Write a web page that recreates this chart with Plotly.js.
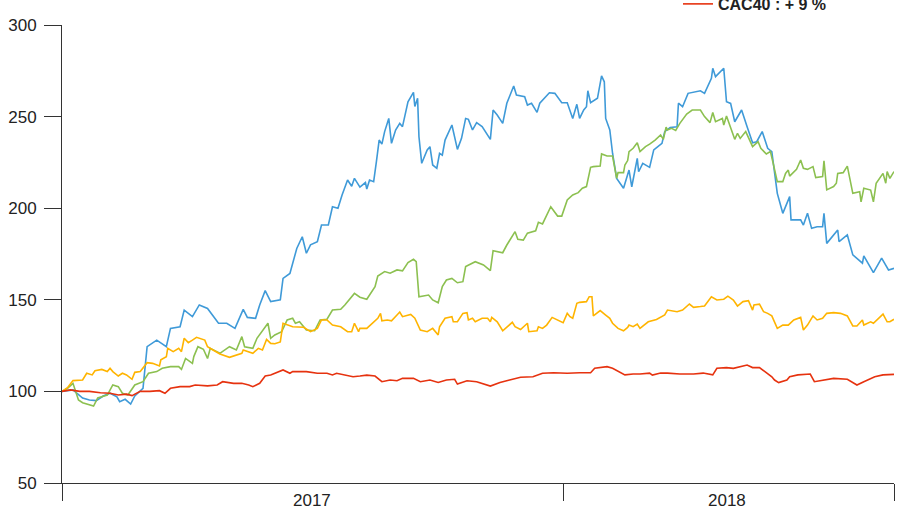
<!DOCTYPE html>
<html><head><meta charset="utf-8">
<script src="https://cdn.plot.ly/plotly-3.0.1.min.js"></script>
<style>html,body{margin:0;padding:0;background:#fff;} #chart{width:906px;height:506px;}</style>
</head><body><div id="chart"></div>
<script>
// ---- Series 1 (blue) ----
const blueDates = [
'2017-01-01','2017-01-05','2017-01-09','2017-01-16','2017-01-21','2017-01-26','2017-01-31','2017-02-05','2017-02-10','2017-02-12',
'2017-02-16','2017-02-20','2017-02-23','2017-03-01','2017-03-04','2017-03-11','2017-03-18','2017-03-21','2017-03-28','2017-03-31',
'2017-04-06','2017-04-11','2017-04-17','2017-04-25','2017-05-01','2017-05-07','2017-05-13','2017-05-16','2017-05-22','2017-05-25',
'2017-05-29','2017-06-02','2017-06-09','2017-06-11','2017-06-16','2017-06-21','2017-06-25','2017-06-28','2017-07-01','2017-07-06',
'2017-07-09','2017-07-14','2017-07-17','2017-07-21','2017-07-24','2017-07-28','2017-07-31','2017-08-02','2017-08-06','2017-08-10',
'2017-08-11','2017-08-13','2017-08-16','2017-08-18','2017-08-20','2017-08-22','2017-08-24','2017-08-27','2017-08-29','2017-09-01',
'2017-09-04','2017-09-06','2017-09-10','2017-09-14','2017-09-15','2017-09-17','2017-09-18','2017-09-20','2017-09-24','2017-09-26',
'2017-09-28','2017-10-01','2017-10-03','2017-10-05','2017-10-07','2017-10-12','2017-10-16','2017-10-19','2017-10-22','2017-10-24',
'2017-10-27','2017-10-30','2017-11-03','2017-11-09','2017-11-11','2017-11-14','2017-11-18','2017-11-21','2017-11-26','2017-11-28',
'2017-12-04','2017-12-06','2017-12-09','2017-12-13','2017-12-15','2017-12-22','2017-12-26','2017-12-31','2018-01-04','2018-01-08',
'2018-01-11','2018-01-13','2018-01-16','2018-01-18','2018-01-19','2018-01-21','2018-01-26','2018-01-29','2018-01-31','2018-02-01',
'2018-02-04','2018-02-06','2018-02-09','2018-02-14','2018-02-18','2018-02-20','2018-02-24','2018-02-25','2018-02-28','2018-03-05',
'2018-03-08','2018-03-11','2018-03-14','2018-03-16','2018-03-20','2018-03-25','2018-03-26','2018-03-29','2018-04-02','2018-04-11',
'2018-04-14','2018-04-19','2018-04-20','2018-04-22','2018-04-28','2018-04-30','2018-05-03','2018-05-06','2018-05-08','2018-05-11',
'2018-05-15','2018-05-19','2018-05-22','2018-05-26','2018-05-30','2018-06-02','2018-06-06','2018-06-10','2018-06-15','2018-06-16',
'2018-06-23','2018-06-25','2018-06-28','2018-07-01','2018-07-05','2018-07-09','2018-07-10','2018-07-12','2018-07-20','2018-07-21',
'2018-07-27','2018-07-31','2018-08-07','2018-08-08','2018-08-15','2018-08-21','2018-08-26','2018-08-30'];
const blueValues = [
100,100.5,100.8,96.4,95.3,95,97.5,99,97,94.4,
95.7,93.1,97.5,101.7,124.4,128,124.4,134.4,135.3,144.4,
140.8,147.2,145.3,137.2,137.2,134.4,144.8,140.4,139.9,147.2,
155,149,150,161.7,164.4,178,184.4,175.4,180,181.7,
190.8,190.8,200.8,200,207.2,215.4,212,216.3,211.5,214,
210.5,215.4,214.5,225.4,237.2,235,241.8,249,235.4,242.7,
246.3,244.5,258.1,263.2,255.5,260,239,224.5,231.8,233.6,
223.6,221.8,230,229,237.2,245.4,232.1,238.1,249,248.5,
242.7,246.7,244.5,237.6,253.6,250.9,246.3,257.3,266.7,261.8,
260.9,256.3,257.3,252.3,257.3,263,262.7,257.6,257.6,249,
256.7,249,253.6,255.4,264.1,257.6,260,272.2,269,249,
242.7,230,216.3,210.9,220.8,211.7,227.2,219.9,224.5,222.3,
231.8,233.6,235.4,241.8,244.1,244.5,257.3,255.4,262.7,264.1,
262.7,270.9,276.4,271.8,276.4,258.1,257.2,247.2,249.9,253.6,
244.5,235.7,236.3,241.8,232.7,230.9,208.1,197.2,206.3,193.6,
193.6,190.8,197.2,189,189.9,189.9,197.2,180.8,188.1,181.7,
185.4,174.5,170,174,164.8,172.7,166.3,167.2];

// ---- Series 2 (green) ----
const greenDates = [
'2017-01-01','2017-01-05','2017-01-09','2017-01-13','2017-01-16','2017-01-24','2017-01-27','2017-02-03','2017-02-07','2017-02-11',
'2017-02-14','2017-02-18','2017-02-23','2017-03-01','2017-03-05','2017-03-11','2017-03-15','2017-03-21','2017-03-27','2017-03-29',
'2017-04-01','2017-04-06','2017-04-07','2017-04-10','2017-04-14','2017-04-17','2017-04-19','2017-04-26','2017-05-03','2017-05-08',
'2017-05-12','2017-05-14','2017-05-20','2017-05-23','2017-05-31','2017-06-02','2017-06-05','2017-06-10','2017-06-14','2017-06-18',
'2017-06-20','2017-06-23','2017-06-28','2017-07-04','2017-07-08','2017-07-13','2017-07-17','2017-07-23','2017-07-26','2017-07-31',
'2017-08-02','2017-08-06','2017-08-11','2017-08-17','2017-08-19','2017-08-24','2017-08-28','2017-09-02','2017-09-06','2017-09-10',
'2017-09-14','2017-09-16','2017-09-18','2017-09-25','2017-09-28','2017-10-02','2017-10-05','2017-10-08','2017-10-12','2017-10-16',
'2017-10-20','2017-10-22','2017-10-29','2017-11-04','2017-11-09','2017-11-11','2017-11-18','2017-11-21','2017-11-27','2017-11-29',
'2017-12-03','2017-12-06','2017-12-12','2017-12-14','2017-12-17','2017-12-23','2017-12-28','2017-12-31','2018-01-04','2018-01-08',
'2018-01-12','2018-01-15','2018-01-18','2018-01-21','2018-01-23','2018-01-28','2018-01-29','2018-02-02','2018-02-06','2018-02-09',
'2018-02-10','2018-02-14','2018-02-15','2018-02-17','2018-02-18','2018-02-21','2018-02-24','2018-02-26','2018-03-02','2018-03-05',
'2018-03-09','2018-03-13','2018-03-15','2018-03-17','2018-03-18','2018-03-21','2018-03-24','2018-03-27','2018-04-01','2018-04-05',
'2018-04-11','2018-04-14','2018-04-18','2018-04-20','2018-04-22','2018-04-27','2018-04-28','2018-04-30','2018-05-03','2018-05-06',
'2018-05-08','2018-05-10','2018-05-14','2018-05-17','2018-05-19','2018-05-23','2018-05-25','2018-05-29','2018-06-01','2018-06-03',
'2018-06-06','2018-06-10','2018-06-12','2018-06-14','2018-06-15','2018-06-20','2018-06-23','2018-06-25','2018-06-28','2018-07-02',
'2018-07-04','2018-07-09','2018-07-10','2018-07-12','2018-07-17','2018-07-19','2018-07-20','2018-07-24','2018-07-27','2018-07-31',
'2018-08-05','2018-08-06','2018-08-08','2018-08-13','2018-08-15','2018-08-17','2018-08-22','2018-08-24','2018-08-25','2018-08-27',
'2018-08-30'];
const greenValues = [
100,101.7,104.4,95.3,93.8,92,96.4,98,103.5,102.6,
99,98,103.5,105.3,109.9,110.8,112.6,113.5,113.5,112,
118,115.3,119,124.4,123,118,123.5,120.8,124.4,122.6,
129.9,124.4,123.5,129,137.2,129,130.8,132.6,139,139.9,
137.2,138,133.5,133.1,139,139.4,144.4,144.8,147.2,151.7,
153.5,151.4,150.3,157.2,163,165.4,164.5,166.3,165.8,170.3,
172.1,170.8,151.7,152.6,149.9,148.4,157.2,160.8,161.7,159.3,
159.9,168.1,170.8,169,165.9,176.8,175.7,179.9,187.2,183,
182.6,186.4,187.7,192.3,191.4,200.8,195.7,195.7,204.5,207.2,
208.5,210.9,211.8,222.3,222.7,223,229.6,228.5,228.5,216.3,
219.4,219.4,223.6,226,230.9,232.7,235.7,230.9,233.6,235,
237.2,240,237.6,244.2,242.7,243.6,242.4,246.3,251.4,253.6,
253.6,250,246.7,252.2,247.2,249,245.4,250.3,244.5,237.6,
240.9,238.1,241.8,237.2,233.6,236.3,232.7,229.6,230.9,224.5,
214.5,214.5,219,220.8,217.5,221.2,226.3,221.8,221.2,222.7,
216.7,217.3,225.9,210,211.8,213.6,219,219.4,223,208.1,
209,203.5,210.9,209.9,203.5,213.6,219,213.6,220,216.3,
220];

// ---- Series 3 (yellow) ----
const yellowDates = [
'2017-01-01','2017-01-05','2017-01-09','2017-01-16','2017-01-19','2017-01-23','2017-01-25','2017-01-30','2017-02-03','2017-02-05',
'2017-02-07','2017-02-11','2017-02-14','2017-02-17','2017-02-21','2017-02-23','2017-02-27','2017-03-01','2017-03-04','2017-03-08',
'2017-03-13','2017-03-14','2017-03-18','2017-03-19','2017-03-23','2017-03-27','2017-03-29','2017-03-31','2017-04-03','2017-04-06',
'2017-04-09','2017-04-15','2017-04-17','2017-04-21','2017-04-26','2017-05-03','2017-05-08','2017-05-12','2017-05-13','2017-05-20',
'2017-05-24','2017-05-27','2017-05-30','2017-06-02','2017-06-05','2017-06-09','2017-06-11','2017-06-18','2017-06-26','2017-07-01',
'2017-07-06','2017-07-09','2017-07-13','2017-07-17','2017-07-23','2017-07-28','2017-07-31','2017-08-02','2017-08-05','2017-08-06',
'2017-08-11','2017-08-15','2017-08-19','2017-08-21','2017-08-22','2017-08-26','2017-08-29','2017-09-02','2017-09-04','2017-09-06',
'2017-09-12','2017-09-15','2017-09-19','2017-09-24','2017-09-28','2017-10-02','2017-10-03','2017-10-07','2017-10-12','2017-10-13',
'2017-10-16','2017-10-20','2017-10-23','2017-10-24','2017-10-27','2017-10-29','2017-11-03','2017-11-07','2017-11-09','2017-11-10',
'2017-11-14','2017-11-18','2017-11-25','2017-11-27','2017-12-01','2017-12-06','2017-12-07','2017-12-13','2017-12-14','2017-12-17',
'2017-12-20','2017-12-24','2017-12-28','2018-01-01','2018-01-04','2018-01-06','2018-01-08','2018-01-11','2018-01-13','2018-01-18',
'2018-01-20','2018-01-22','2018-01-23','2018-01-28','2018-02-01','2018-02-04','2018-02-06','2018-02-10','2018-02-14','2018-02-17',
'2018-02-18','2018-02-21','2018-02-24','2018-02-26','2018-03-04','2018-03-10','2018-03-16','2018-03-18','2018-03-25','2018-03-29',
'2018-04-03','2018-04-06','2018-04-11','2018-04-14','2018-04-19','2018-04-23','2018-04-28','2018-05-01','2018-05-05','2018-05-08',
'2018-05-12','2018-05-16','2018-05-19','2018-05-20','2018-05-24','2018-05-27','2018-05-30','2018-06-02','2018-06-06','2018-06-10',
'2018-06-14','2018-06-18','2018-06-23','2018-06-25','2018-06-28','2018-07-02','2018-07-05','2018-07-09','2018-07-12','2018-07-17',
'2018-07-22','2018-07-27','2018-07-31','2018-08-03','2018-08-07','2018-08-08','2018-08-13','2018-08-15','2018-08-22','2018-08-25',
'2018-08-27','2018-08-30'];
const yellowValues = [
100,102,105.9,106.2,109.9,109,111.3,112,110.8,112.6,
110.8,108.4,109.9,109,106.6,110.4,110.8,112.6,115.7,115.3,
113.9,117.2,118.9,123.5,121.7,123.5,121.7,129,126.6,128,
129.5,128,124.4,122.6,120.4,118.6,119.9,120.8,122.6,120.8,
123.5,122.6,128.4,126.2,126,127,137.2,135.3,135,132.6,
134.4,139,139,136.2,135.3,132.6,132.6,137.2,132.6,134.5,
134.4,137.2,139.9,142.6,138.5,139,138.5,141.7,143.3,140.8,
142,140,133.5,132.6,134.4,130.8,135.3,139.9,140.8,138,
138,142.6,143,139,139.9,138,139.9,139.9,138,140.4,
138,133.1,137.7,135.3,133.8,137.2,132.6,133.1,135.3,134.4,
136.2,140.4,138.9,137.5,142.6,140.8,139.9,148.1,148.6,149,
151.7,151.7,141.2,144.1,141.7,139.9,137.2,134.4,133.1,134.9,
136.2,135.3,136.7,134.4,138,139.3,141.7,144.4,143.5,144.4,
147.7,145.9,146.3,146.6,151.7,149.9,150.3,152,149.9,146.6,
149,149.5,144.4,147.2,147.6,143.5,142.6,141.2,134.4,136.2,
136.2,139,140.4,133.5,136.2,141.2,139,139.9,142.6,143,
142.6,141.2,135.7,135.7,139,136.2,138,137.2,142.2,138,
138,139.4];

// ---- CAC40 (red) ----
const cacDates = [
'2017-01-01','2017-01-07','2017-01-14','2017-01-21','2017-01-29','2017-02-05','2017-02-11','2017-02-17','2017-02-21','2017-02-27',
'2017-03-06','2017-03-13','2017-03-17','2017-03-21','2017-03-28','2017-04-04','2017-04-08','2017-04-17','2017-04-24','2017-04-28',
'2017-05-06','2017-05-12','2017-05-17','2017-05-20','2017-05-25','2017-05-29','2017-06-02','2017-06-11','2017-06-16','2017-06-18',
'2017-06-28','2017-07-06','2017-07-13','2017-07-17','2017-07-20','2017-07-28','2017-08-01','2017-08-06','2017-08-11','2017-08-17',
'2017-08-22','2017-08-28','2017-09-02','2017-09-06','2017-09-14','2017-09-19','2017-09-26','2017-10-02','2017-10-08','2017-10-14',
'2017-10-16','2017-10-23','2017-10-30','2017-11-09','2017-11-16','2017-11-23','2017-12-01','2017-12-10','2017-12-17','2017-12-25',
'2018-01-04','2018-01-13','2018-01-21','2018-01-24','2018-02-02','2018-02-06','2018-02-10','2018-02-15','2018-02-21','2018-02-26',
'2018-03-05','2018-03-07','2018-03-13','2018-03-18','2018-03-27','2018-04-06','2018-04-13','2018-04-18','2018-04-20','2018-04-23',
'2018-04-30','2018-05-05','2018-05-10','2018-05-15','2018-05-19','2018-05-24','2018-05-28','2018-06-02','2018-06-04','2018-06-07',
'2018-06-13','2018-06-15','2018-06-21','2018-06-30','2018-07-03','2018-07-09','2018-07-17','2018-07-27','2018-07-31','2018-08-03',
'2018-08-08','2018-08-14','2018-08-16','2018-08-22','2018-08-30'];
const cacValues = [
100,100.8,100,100,99.3,99,98,98.5,97.7,100,
100,100.4,99,101.7,102.6,102.6,103.5,103,103.5,105.3,
104.4,104.4,103.5,102.6,104.4,108.4,108.9,111.7,109.9,110.8,
110.8,109.9,109.9,109,109.9,108.4,108,108.4,108.9,108.4,
105.3,106.2,105.8,107.1,107.1,105.3,106.2,104.9,106.2,106.6,
104,105.8,105.3,102.9,104.9,106.2,107.7,108,109.9,110.2,
109.9,110.2,110.2,112.6,113.5,112.6,111,109,109.5,109.5,
110,108.9,110,110,109.5,109.5,110,109,109,112.6,
113,112.6,113.5,114.4,113,113,110.8,108,106.2,104.8,
106.2,108,109,109.5,105.3,106.2,107.1,106.6,104.8,103.5,
105.3,107.1,108,109,109.3];

const cacLegend = 'CAC40 : + 9 %';
const xRange = ['2017-01-01', '2018-08-30'];
const xTickDates = ['2017-01-01', '2018-01-01', '2018-08-30'];
const yearLabels = ['2017', '2018'];
const yearLabelDates = ['2017-07-02', '2018-04-30'];
const yTicks = [50, 100, 150, 200, 250, 300];

const FONT = '"Liberation Sans", Arial, Helvetica, sans-serif';

const traces = [
  {x: blueDates, y: blueValues, type: 'scatter', mode: 'lines', line: {color: '#3f9ad8', width: 1.6}, showlegend: false, hoverinfo: 'skip'},
  {x: greenDates, y: greenValues, type: 'scatter', mode: 'lines', line: {color: '#8cc050', width: 1.6}, showlegend: false, hoverinfo: 'skip'},
  {x: yellowDates, y: yellowValues, type: 'scatter', mode: 'lines', line: {color: '#ffb400', width: 1.6}, showlegend: false, hoverinfo: 'skip'},
  {x: cacDates, y: cacValues, type: 'scatter', mode: 'lines', name: cacLegend, line: {color: '#e6320f', width: 1.6}, showlegend: true}
];

const layout = {
  width: 906, height: 506,
  margin: {l: 62, r: 12, t: 25, b: 23, autoexpand: false},
  paper_bgcolor: '#ffffff', plot_bgcolor: '#ffffff',
  font: {family: FONT, size: 17, color: '#222222'},
  showlegend: true,
  legend: {
    x: (678 - 62) / 832, xanchor: 'left', y: 1.083, yanchor: 'top',
    bgcolor: 'rgba(0,0,0,0)', borderwidth: 0,
    font: {family: FONT, size: 16, color: '#222222', weight: 'bold'}
  },
  xaxis: {
    type: 'date', range: xRange, tickmode: 'array', tickvals: xTickDates, ticktext: ['', '', ''],
    ticks: 'outside', ticklen: 17, tickwidth: 1, tickcolor: '#333333',
    showline: true, linecolor: '#333333', linewidth: 1, showgrid: false, zeroline: false, fixedrange: true
  },
  yaxis: {
    range: [50, 300], tickmode: 'array', tickvals: yTicks,
    ticks: 'outside', ticklen: 17, tickwidth: 1, tickcolor: '#333333', ticklabelstandoff: 4,
    tickfont: {family: FONT, size: 17, color: '#222222'},
    showline: true, linecolor: '#333333', linewidth: 1, showgrid: false, zeroline: false, fixedrange: true
  },
  annotations: yearLabels.map((t, i) => ({
    x: yearLabelDates[i], xref: 'x', y: 0, yref: 'paper', yanchor: 'top', yshift: -6,
    text: t, showarrow: false, font: {family: FONT, size: 17, color: '#222222'}
  }))
};

Plotly.newPlot('chart', traces, layout, {staticPlot: true, displayModeBar: false});
</script>
</body></html>
